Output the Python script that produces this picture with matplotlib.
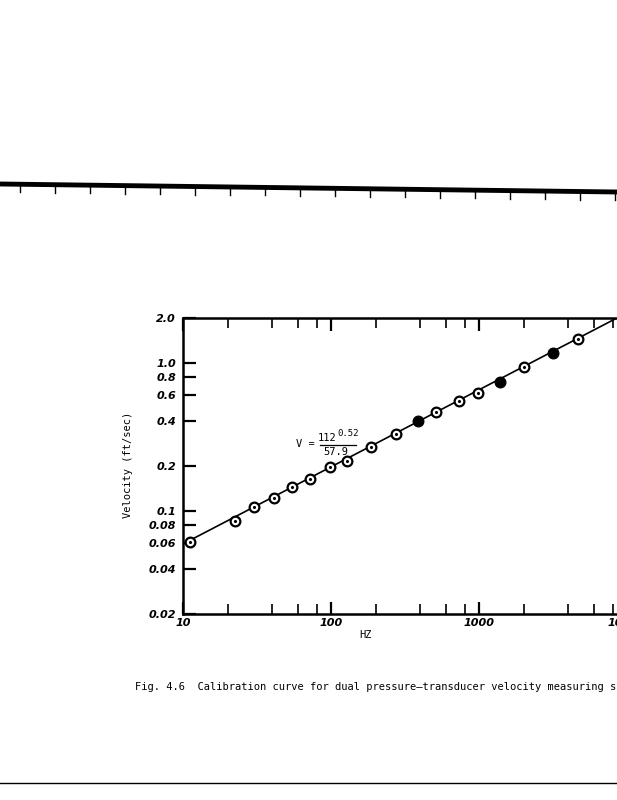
import matplotlib
matplotlib.use("Agg")
import matplotlib.pyplot as plt
from matplotlib.lines import Line2D

# calibration points
hz = [11.2, 22.4, 30.2, 41.4, 54.8, 72.1, 98.4, 128.9, 187, 275, 389, 512,
      736, 988, 1387, 2014, 3178, 4688]
vel = [0.0616, 0.0854, 0.1052, 0.1221, 0.1449, 0.1634, 0.1960, 0.2152, 0.2700,
       0.3275, 0.4029, 0.4635, 0.5525, 0.6255, 0.7421, 0.9374, 1.155, 1.436]
filled = [389, 1387, 3178]

# fitted line end points
fit_hz = [10, 10000]
fit_vel = [0.0595, 2.17]

y_ticks = [0.02, 0.04, 0.06, 0.08, 0.1, 0.2, 0.4, 0.6, 0.8, 1.0, 2.0]
y_labels = ['0.02', '0.04', '0.06', '0.08', '0.1', '0.2', '0.4', '0.6', '0.8', '1.0', '2.0']
x_ticks = [10, 100, 1000, 10000]
x_labels = ['10', '100', '1000', '10000']
x_minor = [20, 40, 60, 80, 200, 400, 600, 800, 2000, 4000, 6000, 8000]

mono = 'DejaVu Sans Mono'

fig = plt.figure(figsize=(6.17, 8), dpi=100)
ax = fig.add_axes([183/617, 1-614/800, 444/617, 296/800])

ax.plot(fit_hz, fit_vel, color='black', lw=1.2, zorder=2)
hollow_x = [h for h in hz if h not in filled]
hollow_y = [v for h, v in zip(hz, vel) if h not in filled]
full_y = [v for h, v in zip(hz, vel) if h in filled]
ax.plot(hollow_x, hollow_y, 'o', ms=7, mfc='white', mec='black', mew=1.6, zorder=3)
ax.plot(hollow_x, hollow_y, '.', ms=2.5, color='black', zorder=4)
ax.plot(filled, full_y, 'o', ms=7, mfc='black', mec='black', mew=1.6, zorder=3)

ax.set_xscale('log')
ax.set_yscale('log')
ax.set_xlim(10, 10000)
ax.set_ylim(0.02, 2.0)

ax.set_xticks(x_ticks)
ax.set_xticklabels(x_labels)
ax.set_xticks(x_minor, minor=True)
ax.set_xticklabels([], minor=True)
ax.set_yticks(y_ticks)
ax.set_yticklabels(y_labels)
ax.set_yticks([], minor=True)

ax.tick_params(axis='both', which='major', direction='in', length=9, width=1.6,
               top=True, right=False, pad=5)
ax.tick_params(axis='x', which='major', pad=3)
ax.tick_params(axis='x', which='minor', direction='in', length=7, width=1.2,
               top=True)
for lab in ax.get_xticklabels() + ax.get_yticklabels():
    lab.set_fontstyle('italic')
    lab.set_fontweight('bold')
    lab.set_fontsize(8)

for s in ax.spines.values():
    s.set_linewidth(1.8)

fig.text(128/617, 1-465/800, 'Velocity (ft/sec)', rotation=90, family=mono,
         fontsize=7.5, ha='center', va='center')
fig.text(366/617, 1-635/800, 'HZ', family=mono, fontsize=7.5, ha='center', va='center')

# equation
fig.text(305/617, 1-444/800, 'V =', family=mono, fontsize=7.5, ha='center', va='center')
fig.text(336/617, 1-438/800, '112', family=mono, fontsize=7.5, ha='right', va='center')
fig.text(337/617, 1-434/800, '0.52', family=mono, fontsize=6.5, ha='left', va='center')
fig.text(336/617, 1-452/800, '57.9', family=mono, fontsize=7.5, ha='center', va='center')
fig.add_artist(Line2D([320/617, 356/617], [1-445/800, 1-445/800], color='black', lw=0.9))

fig.text(135/617, 1-687/800,
         'Fig. 4.6  Calibration curve for dual pressure\u2014transducer velocity measuring system',
         family=mono, fontsize=7.45, ha='left', va='center')

# scanner artifacts: heavy rule near the top and a thin one at the bottom
fig.add_artist(Line2D([0, 1], [1-184/800, 1-192/800], color='black', lw=3.5))
for i in range(18):
    px = 20 + i * 35
    py = 186 + 8 * px / 617
    fig.add_artist(Line2D([px/617, px/617], [1-py/800, 1-(py+6)/800], color='black', lw=1))
fig.add_artist(Line2D([0, 1], [1-783/800, 1-783/800], color='black', lw=1))

fig.savefig('out.png', dpi=100)
